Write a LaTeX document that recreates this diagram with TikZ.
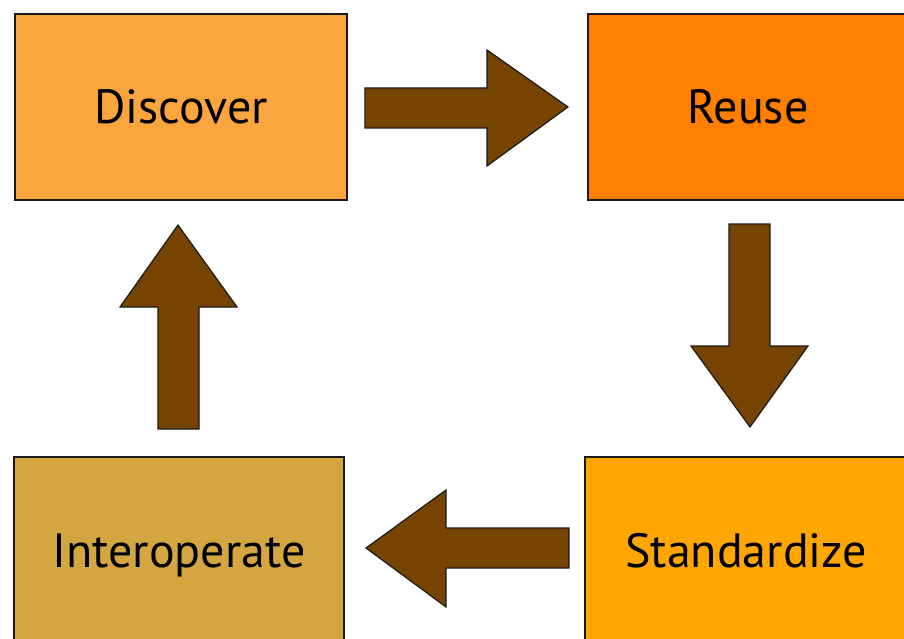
\documentclass[tikz,border=0pt]{standalone}
\usepackage{fontspec}
\setmainfont{PT Sans}
\definecolor{cDisc}{HTML}{FBA53E}
\definecolor{cReuse}{HTML}{FF7F00}
\definecolor{cStd}{HTML}{FFA600}
\definecolor{cInter}{HTML}{D4A641}
\definecolor{cArrow}{HTML}{774300}
\definecolor{cLine}{HTML}{1A1A1A}
\tikzset{
  box/.style={draw=cLine, line width=1.3pt, rectangle, inner sep=0pt,
    text height=34pt, text depth=0pt,
    font=\fontsize{48}{56}\selectfont, text=black},
  blockarrow/.style={draw=cLine, line width=1.2pt, fill=cArrow, line join=miter}
}
\begin{document}
\begin{tikzpicture}[x=1pt,y=-1pt]
\useasboundingbox (0,0) rectangle (904,639);
\clip (0,0) rectangle (904,639);
\fill[white] (0,0) rectangle (904,639);
% boxes
\node[box, fill=cDisc, minimum width=332pt, minimum height=186pt] (disc) at (181,107) {Discover};
\node[box, fill=cReuse, minimum width=320pt, minimum height=186pt] (reuse) at (748,107) {Reuse};
\node[box, fill=cStd, minimum width=322pt, minimum height=186pt] (std) at (746,550) {Standardize};
\node[box, fill=cInter, minimum width=330pt, minimum height=186pt] (inter) at (179,550) {Interoperate};
% block arrows
\draw[blockarrow] (365,88) -- (487,88) -- (487,50) -- (568,107) -- (487,166) -- (487,128) -- (365,128) -- cycle;
\draw[blockarrow] (729,224) -- (770,224) -- (770,346) -- (808,346) -- (750,427) -- (691,346) -- (729,346) -- cycle;
\draw[blockarrow] (569,528) -- (446,528) -- (446,490) -- (366,548) -- (446,607) -- (446,568) -- (569,568) -- cycle;
\draw[blockarrow] (158,429) -- (158,307) -- (120,307) -- (178,225) -- (237,307) -- (199,307) -- (199,429) -- cycle;
\end{tikzpicture}
\end{document}
